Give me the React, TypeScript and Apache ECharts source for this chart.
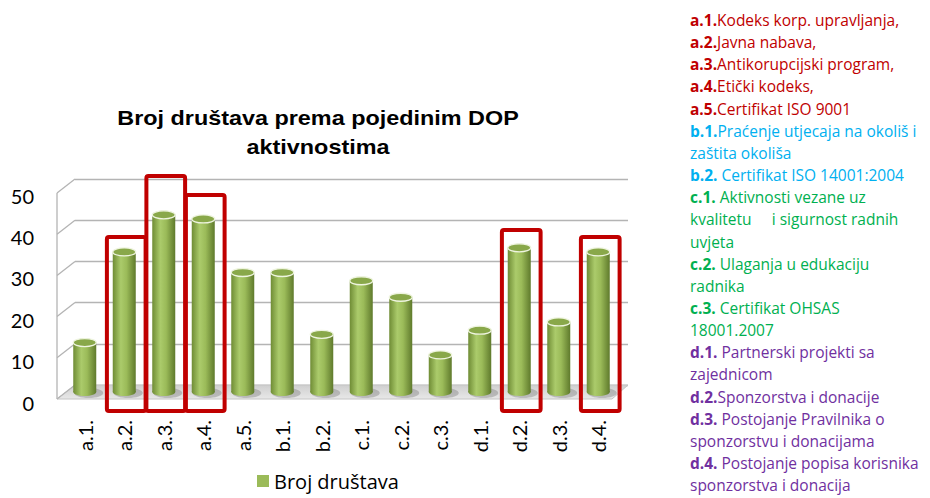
import React, { useEffect, useRef } from "react";
import * as echarts from "echarts";

const categories = ["a.1.", "a.2.", "a.3.", "a.4.", "a.5.", "b.1.", "b.2.", "c.1.", "c.2.", "c.3.", "d.1.", "d.2.", "d.3.", "d.4."];
const values = [12, 34, 43, 42, 29, 29, 14, 27, 23, 9, 15, 35, 17, 34];
const yTicks = [0, 10, 20, 30, 40, 50];
const highlightCategories = ["a.2.", "a.3.", "a.4.", "d.2.", "d.4."];
const highlightTops = [37.6, 52.4, 47.8, 39.3, 37.6];
const seriesName = "Broj društava";
const titleText = "Broj društava prema pojedinim DOP\naktivnostima";

const noteCodes = ["a.1.", "a.2.", "a.3.", "a.4.", "a.5.", "b.1.", "", "b.2. ", "c.1. ", "", "", "c.2. ", "", "c.3. ", "", "d.1. ", "", "d.2.", "d.3. ", "", "d.4. ", ""];
const noteTexts = [
  "Kodeks korp. upravljanja,",
  "Javna nabava,",
  "Antikorupcijski program,",
  "Etički kodeks,",
  "Certifikat ISO 9001",
  "Praćenje utjecaja na okoliš i",
  "zaštita okoliša",
  "Certifikat ISO 14001:2004",
  "Aktivnosti vezane uz",
  "kvalitetu     i sigurnost radnih",
  "uvjeta",
  "Ulaganja u edukaciju",
  "radnika",
  "Certifikat OHSAS",
  "18001.2007",
  "Partnerski projekti sa",
  "zajednicom",
  "Sponzorstva i donacije",
  "Postojanje Pravilnika o",
  "sponzorstvu i donacijama",
  "Postojanje popisa korisnika",
  "sponzorstva i donacija",
];
const noteGroups = ["a", "a", "a", "a", "a", "b", "b", "b", "c", "c", "c", "c", "c", "c", "c", "d", "d", "d", "d", "d", "d", "d"];
const groupColors: Record<string, string> = { a: "#c00000", b: "#00b0f0", c: "#00b050", d: "#7030a0" };

const FONT = "Lato";
const WIDE = "Open Sans";

export default function App() {
  const ref = useRef<HTMLDivElement>(null);
  useEffect(() => {
    if (!ref.current) return;
    const chart = echarts.init(ref.current, null, { renderer: "svg" });

    const noteSize = 15.5;
    const noteGraphics = noteTexts.map((t, i) => {
      const code = noteCodes[i];
      const color = groupColors[noteGroups[i]];
      return {
        type: "text",
        x: 690,
        y: 20 + i * 22.15,
        style: {
          text: code ? `{c|${code}}{t|${t}}` : `{t|${t}}`,
          rich: {
            c: { fontWeight: "bold", fontSize: noteSize, fontFamily: WIDE, fill: color, color },
            t: { fontSize: noteSize, fontFamily: WIDE, fill: color, color },
          },
          fill: color,
          fontFamily: WIDE,
          fontSize: noteSize,
          verticalAlign: "middle",
          align: "left",
        },
      };
    });

    const titleGraphic = {
      type: "text",
      x: 318,
      y: 133,
      scaleX: 1.17,
      style: {
        text: titleText,
        fontFamily: "Liberation Sans",
        fontWeight: "bold",
        fontSize: 20,
        lineHeight: 29,
        fill: "#000",
        align: "center",
        verticalAlign: "middle",
      },
    };

    const option: any = {
      animation: false,
      backgroundColor: "#ffffff",
      legend: {
        data: [{ name: seriesName, icon: "rect" }],
        left: 252,
        top: 466,
        itemWidth: 12,
        itemHeight: 12,
        textStyle: { fontFamily: WIDE, fontSize: 20, color: "#000" },
        selectedMode: false,
      },
      grid: [
        { left: 65, right: 312, top: 186, bottom: 106 },
        { left: 75, right: 302, top: 179, bottom: 113 },
        { left: 57, right: 320, top: 195.5, bottom: 95.5 },
      ],
      xAxis: [
        {
          type: "category",
          gridIndex: 0,
          data: categories,
          axisLine: { show: false },
          axisTick: { show: false },
          axisLabel: {
            rotate: 90,
            margin: 28,
            fontFamily: FONT,
            fontSize: 20,
            color: "#000",
            interval: 0,
          },
        },
        { type: "category", gridIndex: 1, data: categories, show: false },
        { type: "category", gridIndex: 2, data: categories, show: false },
      ],
      yAxis: [
        {
          type: "value",
          gridIndex: 0,
          min: 0,
          max: 50,
          interval: 10,
          show: false,
        },
        {
          type: "value",
          gridIndex: 1,
          min: 0,
          max: 50,
          interval: 10,
          axisLine: { show: false },
          axisTick: { show: false },
          axisLabel: { show: false },
          splitLine: { show: true, lineStyle: { color: "#b4b4b4", width: 1.3 } },
        },
        {
          type: "value",
          gridIndex: 2,
          min: 0,
          max: 50,
          interval: 10,
          axisLine: { show: false },
          axisTick: { show: false },
          splitLine: { show: false },
          axisLabel: {
            margin: 23,
            fontFamily: FONT,
            fontSize: 20,
            color: "#000",
          },
        },
      ],
      series: [
        {
          type: "custom",
          name: "floor",
          xAxisIndex: 0,
          yAxisIndex: 0,
          silent: true,
          z: 1,
          data: [[0, 0]],
          renderItem: (params: any, api: any) => {
            const cs = params.coordSys;
            const y0 = api.coord([0, 0])[1];
            const yTop = api.coord([0, 50])[1];
            return {
              type: "group",
              children: [
                {
                  type: "polygon",
                  shape: {
                    points: [
                      [cs.x - 8, y0 + 7],
                      [cs.x + cs.width - 6, y0 + 7],
                      [cs.x + cs.width + 10, y0 - 7],
                      [cs.x + 10, y0 - 7],
                    ],
                  },
                  style: {
                    fill: new echarts.graphic.LinearGradient(0, 0, 0, 1, [
                      { offset: 0, color: "#cfcfcf" },
                      { offset: 1, color: "#e8e8e8" },
                    ]),
                    stroke: "#c4c4c4",
                    lineWidth: 1,
                  },
                },
                {
                  type: "line",
                  shape: { x1: cs.x - 8, y1: y0 + 7, x2: cs.x - 8, y2: yTop + 7 },
                  style: { stroke: "#b4b4b4", lineWidth: 1.3 },
                },
              ],
            };
          },
        },
        {
          type: "custom",
          name: "wall",
          xAxisIndex: 0,
          yAxisIndex: 0,
          silent: true,
          z: 1,
          data: yTicks.map((v) => [0, v]),
          renderItem: (params: any, api: any) => {
            const cs = params.coordSys;
            const y = api.coord([0, api.value(1)])[1];
            return {
              type: "line",
              shape: { x1: cs.x - 8, y1: y + 7, x2: cs.x + 10, y2: y - 7 },
              style: { stroke: "#b4b4b4", lineWidth: 1.3 },
            };
          },
        },
        {
          type: "custom",
          name: seriesName,
          xAxisIndex: 0,
          yAxisIndex: 0,
          z: 3,
          itemStyle: { color: "#9bbb59" },
          data: values.map((v, i) => [i, v]),
          renderItem: (params: any, api: any) => {
            const top = api.coord([api.value(0), api.value(1)]);
            const base = api.coord([api.value(0), 0]);
            const cx = top[0];
            const w = 23;
            const ry = 4;
            const body = new echarts.graphic.LinearGradient(0, 0, 1, 0, [
              { offset: 0, color: "#6f8c35" },
              { offset: 0.35, color: "#abcb6b" },
              { offset: 0.6, color: "#9bbb59" },
              { offset: 1, color: "#5f7a2c" },
            ]);
            return {
              type: "group",
              children: [
                {
                  type: "ellipse",
                  shape: { cx: cx + 4, cy: base[1] + 1, rx: w / 2 + 3, ry: ry + 1 },
                  style: { fill: "rgba(90,90,90,0.3)" },
                },
                {
                  type: "ellipse",
                  shape: { cx, cy: base[1], rx: w / 2, ry },
                  style: { fill: body },
                },
                {
                  type: "rect",
                  shape: { x: cx - w / 2, y: top[1], width: w, height: base[1] - top[1] },
                  style: { fill: body },
                },
                {
                  type: "ellipse",
                  shape: { cx, cy: top[1], rx: w / 2, ry },
                  style: { fill: "#89a84a", stroke: "#eef4df", lineWidth: 1.3 },
                },
              ],
            };
          },
        },
        {
          type: "custom",
          name: "highlight",
          xAxisIndex: 0,
          yAxisIndex: 0,
          silent: true,
          z: 5,
          clip: false,
          data: highlightCategories.map((c, i) => [categories.indexOf(c), highlightTops[i]]),
          renderItem: (params: any, api: any) => {
            const top = api.coord([api.value(0), api.value(1)]);
            const base = api.coord([api.value(0), 0]);
            const bw = api.size([1, 0])[0] * 0.98;
            return {
              type: "rect",
              shape: { x: top[0] - bw / 2 + 2, y: top[1], width: bw, height: base[1] + 19 - top[1], r: 2 },
              style: { fill: "none", stroke: "#c00000", lineWidth: 4 },
            };
          },
        },
      ],
      graphic: [titleGraphic, ...noteGraphics],
    };

    chart.setOption(option);
    return () => chart.dispose();
  }, []);

  return <div ref={ref} style={{ position: "fixed", left: 0, top: 0, width: 930, height: 498 }} />;
}
